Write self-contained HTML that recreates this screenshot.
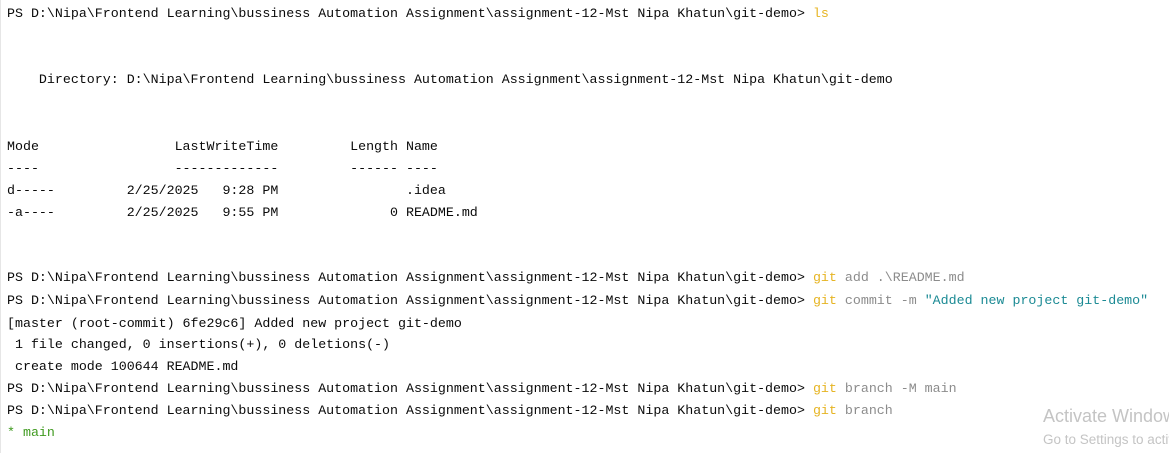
<!DOCTYPE html>
<html><head><meta charset="utf-8"><style>
html,body{margin:0;padding:0;background:#fff;width:1169px;height:453px;overflow:hidden;position:relative}
.l{position:absolute;left:7px;font-family:"Liberation Mono",monospace;font-size:13.3px;line-height:16px;white-space:pre;color:#0a0a0a}
.g{color:#e6b422}.a{color:#8c8c8c}.s{color:#1b8a94}.m{color:#3f9a1f}
.b{position:absolute;left:0;top:0;width:1px;height:453px;background:#e6e6e6}
.w{position:absolute;font-family:"Liberation Sans",sans-serif;color:#c4c4c4;white-space:nowrap;overflow:hidden}
</style></head><body>
<div class="b"></div>
<div class="l" style="top:6px">PS D:\Nipa\Frontend Learning\bussiness Automation Assignment\assignment-12-Mst Nipa Khatun\git-demo&gt; <span class="g">ls</span></div>
<div class="l" style="top:72px">    Directory: D:\Nipa\Frontend Learning\bussiness Automation Assignment\assignment-12-Mst Nipa Khatun\git-demo</div>
<div class="l" style="top:139px">Mode                 LastWriteTime         Length Name</div>
<div class="l" style="top:161px">----                 -------------         ------ ----</div>
<div class="l" style="top:183px">d-----         2/25/2025   9:28 PM                .idea</div>
<div class="l" style="top:205px">-a----         2/25/2025   9:55 PM              0 README.md</div>
<div class="l" style="top:270px">PS D:\Nipa\Frontend Learning\bussiness Automation Assignment\assignment-12-Mst Nipa Khatun\git-demo&gt; <span class="g">git</span> <span class="a">add .\README.md</span></div>
<div class="l" style="top:293px">PS D:\Nipa\Frontend Learning\bussiness Automation Assignment\assignment-12-Mst Nipa Khatun\git-demo&gt; <span class="g">git</span> <span class="a">commit -m</span> <span class="s">"Added new project git-demo"</span></div>
<div class="l" style="top:316px">[master (root-commit) 6fe29c6] Added new project git-demo</div>
<div class="l" style="top:337px"> 1 file changed, 0 insertions(+), 0 deletions(-)</div>
<div class="l" style="top:359px"> create mode 100644 README.md</div>
<div class="l" style="top:381px">PS D:\Nipa\Frontend Learning\bussiness Automation Assignment\assignment-12-Mst Nipa Khatun\git-demo&gt; <span class="g">git</span> <span class="a">branch -M main</span></div>
<div class="l" style="top:403px">PS D:\Nipa\Frontend Learning\bussiness Automation Assignment\assignment-12-Mst Nipa Khatun\git-demo&gt; <span class="g">git</span> <span class="a">branch</span></div>
<div class="l m" style="top:425px">* main</div>
<div class="w" style="left:1043px;top:406px;width:126px;font-size:18px">Activate Windows</div>
<div class="w" style="left:1043px;top:432px;width:126px;font-size:13.5px">Go to Settings to activate Windows.</div>
</body></html>
